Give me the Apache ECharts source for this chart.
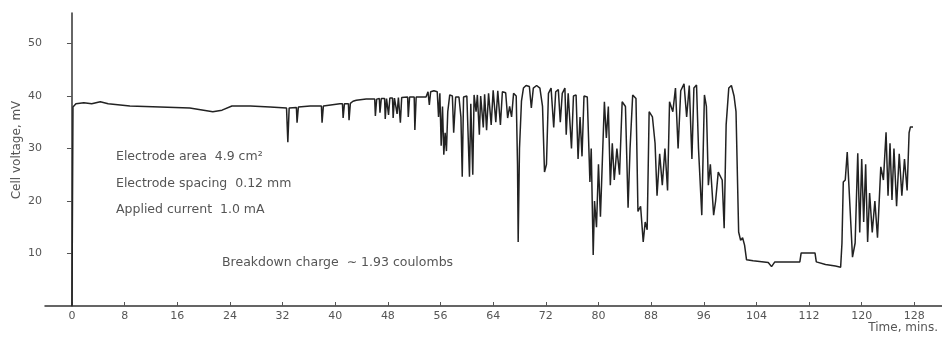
<!DOCTYPE html>
<html>
<head>
<meta charset="utf-8">
<script src="https://cdn.jsdelivr.net/npm/echarts@6/dist/echarts.min.js"></script>
<style>
  html, body { margin: 0; padding: 0; background: #fff; }
  #chart { width: 942px; height: 337px; }
</style>
</head>
<body>
<div id="chart"></div>
<script>
// time in minutes, cell voltage in mV
const time = [
  0, 0.15, 0.6, 1.8, 3.0, 4.3, 5.5, 8.8, 13.4, 17.9, 21.4, 22.8, 24.3, 27.1, 30.1,
  32.6, 32.8, 33.0, 34.1, 34.2, 34.4, 36.2, 37.9, 38.0, 38.2, 40.7, 41.1, 41.2, 41.4,
  42.0, 42.1, 42.3, 42.7, 43.2, 44.7, 46.0, 46.1, 46.3, 46.7, 46.8, 47.0, 47.5, 47.6,
  47.8, 48.0, 48.1, 48.3, 48.7, 48.8, 49.0, 49.3, 49.4, 49.6, 49.8, 49.9, 50.1, 51.0,
  51.1, 51.3, 52.0, 52.1, 52.3, 53.8,
  54.0, 54.1, 54.3, 54.5, 55.0, 55.5, 55.7, 55.9, 56.1, 56.3, 56.5, 56.7, 56.9, 57.1,
  57.4, 57.8, 58.0, 58.3, 58.8, 59.1, 59.3, 59.5, 60.0, 60.4, 60.6, 60.9, 61.1, 61.4,
  61.6, 61.9, 62.1, 62.5, 62.7, 63.0, 63.3, 63.7, 64.0, 64.4, 64.7, 65.1, 65.4, 65.9,
  66.2, 66.5, 66.8, 67.1, 67.5, 67.7, 67.8, 68.0, 68.3, 68.6, 69.0, 69.5, 69.8, 70.1,
  70.6, 71.1, 71.5, 71.8, 72.1, 72.4, 72.8, 73.2, 73.5, 73.9, 74.2, 74.5,
  74.9, 75.1, 75.4, 75.9, 76.2, 76.6, 76.9, 77.2, 77.5, 77.8, 78.3, 78.7, 78.9, 79.2,
  79.4, 79.7, 80.0, 80.3, 80.6, 80.9, 81.2, 81.5, 81.8, 82.1, 82.4, 82.8, 83.2, 83.6,
  84.1, 84.5, 84.8, 85.2, 85.7, 86.0, 86.4, 86.8, 87.1, 87.4, 87.7, 88.2, 88.6, 88.9,
  89.3, 89.7, 90.1, 90.5, 90.8, 91.3, 91.7, 92.1, 92.5, 93.0, 93.4, 93.8, 94.2, 94.5,
  94.9, 95.2, 95.7, 96.1, 96.4, 96.7, 97.0, 97.5, 97.8, 98.2, 98.8, 99.1, 99.4, 99.8,
  100.2, 100.6, 100.9, 101.3, 101.6, 101.9, 102.2, 102.5, 103.5, 105.8, 106.3, 106.8,
  109.2, 110.6, 110.8, 112.9, 113.1, 114.5, 116.0, 116.8, 117.0, 117.2, 117.5, 117.8,
  118.6, 119.0, 119.4, 119.7, 120.0, 120.3, 120.6, 120.9, 121.2, 121.6, 122.0, 122.4,
  122.9, 123.3, 123.7, 124.0, 124.3, 124.6, 124.9, 125.3, 125.7, 126.1, 126.5, 126.9,
  127.2, 127.4, 127.8
];
const voltage = [
  0, 37.9, 38.5, 38.7, 38.5, 38.9, 38.5, 38.1, 37.9, 37.7, 37.0, 37.3, 38.1, 38.1, 37.9,
  37.7, 31.2, 37.7, 37.8, 34.9, 37.9, 38.1, 38.1, 34.9, 38.1, 38.5, 38.5, 35.8, 38.5,
  38.5, 35.4, 38.6, 39.0, 39.2, 39.4, 39.4, 36.2, 39.4, 39.5, 36.8, 39.5, 39.5, 35.6,
  39.5, 39.5, 36.4, 39.6, 39.6, 35.8, 39.6, 39.6, 36.6, 39.7, 39.7, 34.9, 39.7, 39.8,
  36.0, 39.8, 39.8, 33.5, 39.8, 39.8,
  39.8, 40.8, 38.3, 40.8, 41.0, 40.8, 36.0, 40.5, 30.5, 38.0, 28.8, 33.0, 29.5, 37.0,
  40.2, 40.0, 33.0, 39.8, 39.8, 36.0, 24.6, 39.8, 40.0, 24.6, 38.5, 25.0, 40.2, 37.0,
  40.2, 32.6, 40.0, 34.0, 40.3, 33.5, 40.5, 34.5, 41.1, 35.0, 41.0, 34.5, 40.8, 40.6,
  35.8, 38.0, 36.0, 40.5, 40.0, 26.9, 12.2, 30.0, 39.0, 41.5, 42.0, 41.8, 37.7, 41.5,
  42.0, 41.5, 38.0, 25.5, 27.0, 40.5, 41.5, 34.0, 40.8, 41.2, 35.0, 40.5,
  41.5, 32.6, 40.5, 30.0, 40.0, 40.2, 28.0, 36.0, 28.5, 40.0, 39.8, 23.6, 30.0, 9.7,
  20.0, 15.0, 27.0, 17.0, 28.0, 38.9, 32.0, 38.0, 23.0, 31.0, 24.0, 30.0, 25.0, 38.9,
  38.0, 18.7, 30.0, 40.2, 39.5, 18.0, 19.0, 12.2, 16.0, 14.5, 37.0, 36.0, 31.0, 21.0,
  29.0, 23.0, 30.0, 22.0, 38.9, 37.0, 41.5, 30.0, 41.0, 42.3, 36.0, 42.0, 28.0, 41.5,
  42.1, 30.0, 17.3, 40.2, 38.0, 23.0, 27.0, 17.3, 20.0, 25.5, 24.0, 14.8, 34.5, 41.5,
  42.0, 40.0, 37.0, 14.1, 12.5, 13.0, 11.6, 8.8, 8.6, 8.3, 7.5, 8.4,
  8.4, 8.4, 10.1, 10.1, 8.4, 7.9, 7.6, 7.4, 12.0, 23.6, 24.0, 29.3,
  9.3, 12.0, 29.1, 14.0, 28.0, 16.0, 27.0, 12.2, 21.5, 14.0, 20.0, 13.0,
  26.5, 24.0, 33.1, 21.0, 31.0, 20.2, 30.0, 19.0, 29.0, 21.0, 28.0, 22.0,
  33.0, 34.1, 34.1
];
const xTicks = [0, 8, 16, 24, 32, 40, 48, 56, 64, 72, 80, 88, 96, 104, 112, 120, 128];
const yTicks = [10, 20, 30, 40, 50];
const notes = [
  'Electrode area  4.9 cm²',
  'Electrode spacing  0.12 mm',
  'Applied current  1.0 mA'
];
const chargeNote = 'Breakdown charge  \u223C 1.93 coulombs';

const labelColor = '#555';
const font = '"DejaVu Sans", sans-serif';

const chart = echarts.init(document.getElementById('chart'));
chart.setOption({
  animation: false,
  backgroundColor: '#fff',
  grid: { left: 45, right: 0, top: 13, bottom: 31 },
  xAxis: {
    type: 'value',
    min: -4.1,
    max: 132.2,
    axisLine: { lineStyle: { color: '#333', width: 1.5 } },
    axisTick: { inside: true, length: 4, customValues: xTicks, lineStyle: { color: '#555' } },
    axisLabel: { customValues: xTicks, color: labelColor, fontSize: 11, fontFamily: font, margin: 5 },
    splitLine: { show: false }
  },
  yAxis: {
    type: 'value',
    min: 0,
    max: 55.8,
    axisLine: { show: true, lineStyle: { color: '#333', width: 1.5 } },
    axisTick: { length: 5, customValues: yTicks, lineStyle: { color: '#555' } },
    axisLabel: { customValues: yTicks, color: labelColor, fontSize: 11, fontFamily: font, margin: 3 },
    splitLine: { show: false }
  },
  series: [{
    type: 'line',
    data: time.map((t, i) => [t, voltage[i]]),
    showSymbol: false,
    lineStyle: { color: '#222', width: 1.5 }
  }],
  graphic: [
    { type: 'text', x: 17, y: 150, rotation: Math.PI / 2,
      style: { text: 'Cell voltage, mV', fill: labelColor, font: '12px ' + font, align: 'center', verticalAlign: 'middle' } },
    ...notes.map((txt, i) => ({
      type: 'text', x: 116, y: 157 + i * 26.5,
      style: { text: txt, fill: labelColor, font: '12.5px ' + font, verticalAlign: 'middle' }
    })),
    { type: 'text', x: 222, y: 263,
      style: { text: chargeNote, fill: labelColor, font: '12.5px ' + font, verticalAlign: 'middle' } },
    { type: 'text', x: 938, y: 328,
      style: { text: 'Time, mins.', fill: labelColor, font: '12px ' + font, align: 'right', verticalAlign: 'middle' } }
  ]
});
</script>
</body>
</html>
